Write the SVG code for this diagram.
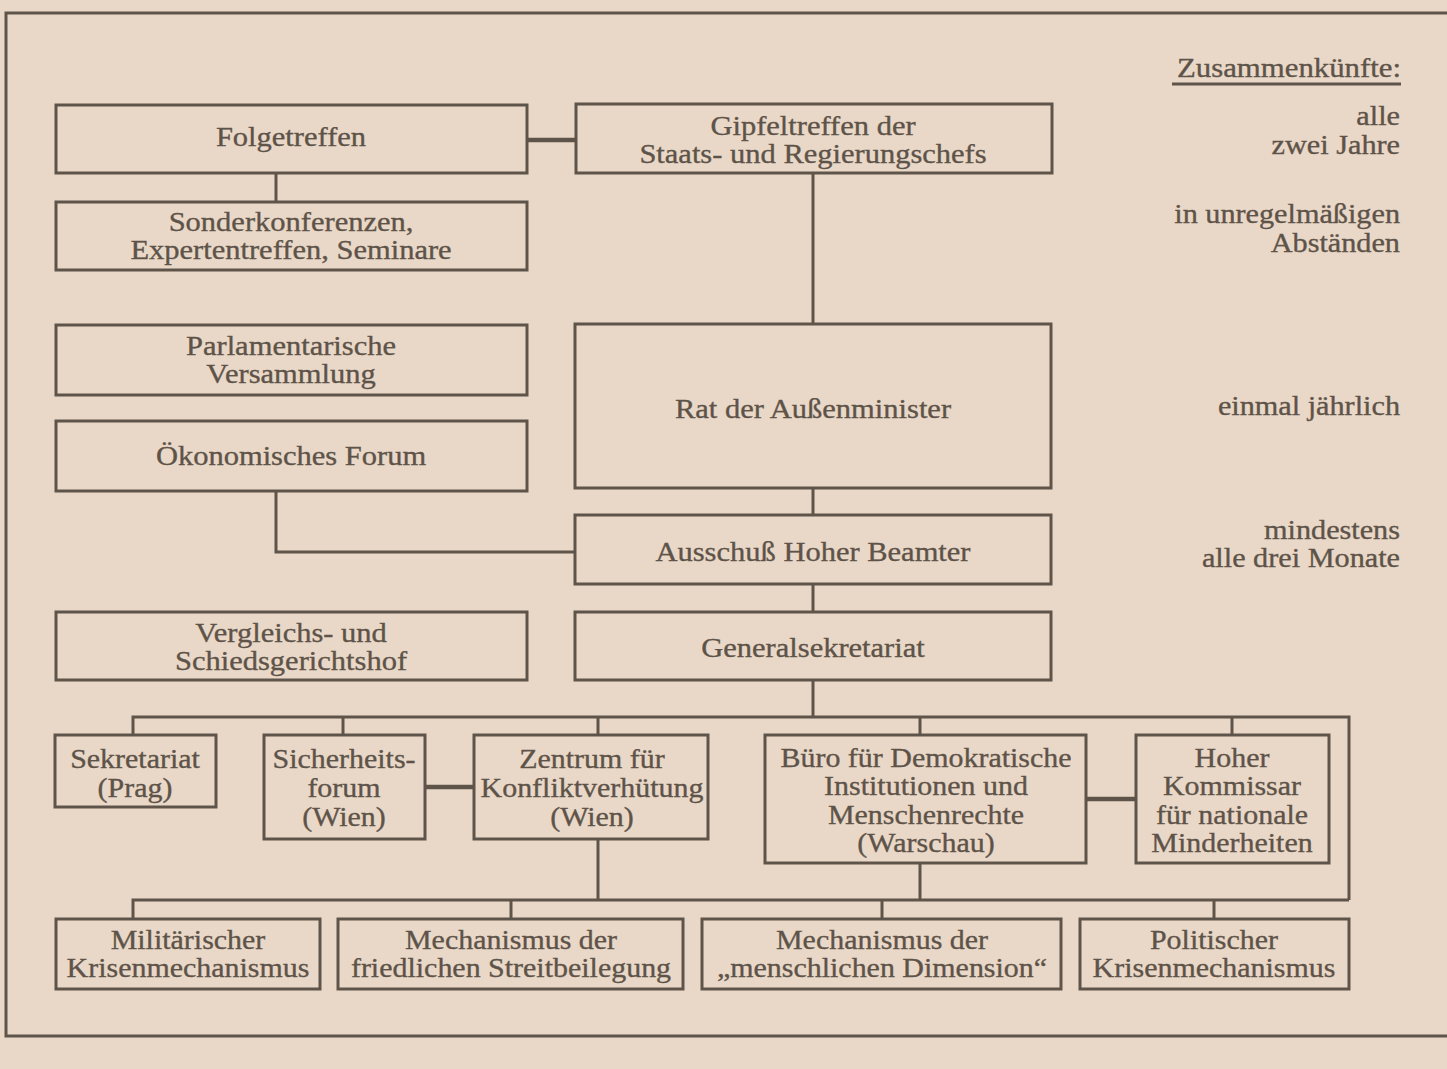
<svg xmlns="http://www.w3.org/2000/svg" width="1447" height="1069" viewBox="0 0 1447 1069">
<style>
.bg{fill:#e9d8c7}
.box{fill:none;stroke:#5f544a;stroke-width:3}
.ln{fill:none;stroke:#5f544a;stroke-width:3}
.thick{fill:none;stroke:#5f544a;stroke-width:4.5}
.t{font-family:"Liberation Serif","Times New Roman",serif;font-size:28px;fill:#5e5349;stroke:#5e5349;stroke-width:0.35;text-anchor:middle}
.r{font-family:"Liberation Serif","Times New Roman",serif;font-size:28px;fill:#5e5349;stroke:#5e5349;stroke-width:0.35;text-anchor:end}
</style>
<rect class="bg" x="0" y="0" width="1447" height="1069"/>
<path class="ln" d="M1447,13 H6 V1036 H1447"/>

<g id="connectors">
<line class="thick" x1="527" y1="140" x2="576" y2="140"/>
<line class="ln" x1="276" y1="173" x2="276" y2="202"/>
<line class="ln" x1="813" y1="173" x2="813" y2="324"/>
<line class="ln" x1="813" y1="488" x2="813" y2="515"/>
<path class="ln" d="M276,491 V552 H575"/>
<line class="ln" x1="813" y1="584" x2="813" y2="612"/>
<line class="ln" x1="813" y1="680" x2="813" y2="717"/>
<path class="ln" d="M133,735 V717 H1349 V900"/>
<line class="ln" x1="343" y1="717" x2="343" y2="735"/>
<line class="ln" x1="598" y1="717" x2="598" y2="735"/>
<line class="ln" x1="920" y1="717" x2="920" y2="735"/>
<line class="ln" x1="1232" y1="717" x2="1232" y2="735"/>
<line class="thick" x1="425" y1="787" x2="474" y2="787"/>
<line class="thick" x1="1086" y1="799" x2="1136" y2="799"/>
<line class="ln" x1="598" y1="839" x2="598" y2="900"/>
<line class="ln" x1="920" y1="863" x2="920" y2="900"/>
<path class="ln" d="M133,919 V900 H1349"/>
<line class="ln" x1="511" y1="900" x2="511" y2="919"/>
<line class="ln" x1="882" y1="900" x2="882" y2="919"/>
<line class="ln" x1="1214" y1="900" x2="1214" y2="919"/>
</g>

<g id="folgetreffen">
<rect class="box" x="56" y="105" width="471" height="68"/>
<text class="t" transform="translate(291,146) scale(1.09,1)">Folgetreffen</text>
</g>
<g id="sonderkonferenzen">
<rect class="box" x="56" y="202" width="471" height="68"/>
<text class="t" transform="translate(291,231) scale(1.09,1)"><tspan x="0">Sonderkonferenzen,</tspan><tspan x="0" dy="28">Expertentreffen, Seminare</tspan></text>
</g>
<g id="gipfeltreffen">
<rect class="box" x="576" y="104" width="476" height="69"/>
<text class="t" transform="translate(813,135) scale(1.09,1)"><tspan x="0">Gipfeltreffen der</tspan><tspan x="0" dy="28">Staats- und Regierungschefs</tspan></text>
</g>
<g id="parlamentarische">
<rect class="box" x="56" y="325" width="471" height="70"/>
<text class="t" transform="translate(291,355) scale(1.09,1)"><tspan x="0">Parlamentarische</tspan><tspan x="0" dy="28">Versammlung</tspan></text>
</g>
<g id="oekonomisches">
<rect class="box" x="56" y="421" width="471" height="70"/>
<text class="t" transform="translate(291,465) scale(1.09,1)">Ökonomisches Forum</text>
</g>
<g id="rat">
<rect class="box" x="575" y="324" width="476" height="164"/>
<text class="t" transform="translate(813,418) scale(1.09,1)">Rat der Außenminister</text>
</g>
<g id="ausschuss">
<rect class="box" x="575" y="515" width="476" height="69"/>
<text class="t" transform="translate(813,561) scale(1.09,1)">Ausschuß Hoher Beamter</text>
</g>
<g id="vergleichs">
<rect class="box" x="56" y="612" width="471" height="68"/>
<text class="t" transform="translate(291,642) scale(1.09,1)"><tspan x="0">Vergleichs- und</tspan><tspan x="0" dy="28">Schiedsgerichtshof</tspan></text>
</g>
<g id="generalsekretariat">
<rect class="box" x="575" y="612" width="476" height="68"/>
<text class="t" transform="translate(813,657) scale(1.09,1)">Generalsekretariat</text>
</g>

<g id="sekretariat">
<rect class="box" x="55" y="735" width="161" height="72"/>
<text class="t" transform="translate(135,768) scale(1.07,1)"><tspan x="0">Sekretariat</tspan><tspan x="0" dy="29">(Prag)</tspan></text>
</g>
<g id="sicherheitsforum">
<rect class="box" x="264" y="735" width="161" height="104"/>
<text class="t" transform="translate(344,768) scale(1.07,1)"><tspan x="0">Sicherheits-</tspan><tspan x="0" dy="29">forum</tspan><tspan x="0" dy="29">(Wien)</tspan></text>
</g>
<g id="zentrum">
<rect class="box" x="474" y="735" width="234" height="104"/>
<text class="t" transform="translate(592,768) scale(1.07,1)"><tspan x="0">Zentrum für</tspan><tspan x="0" dy="29">Konfliktverhütung</tspan><tspan x="0" dy="29">(Wien)</tspan></text>
</g>
<g id="buero">
<rect class="box" x="765" y="735" width="321" height="128"/>
<text class="t" transform="translate(926,767) scale(1.07,1)"><tspan x="0">Büro für Demokratische</tspan><tspan x="0" dy="28.5">Institutionen und</tspan><tspan x="0" dy="28.5">Menschenrechte</tspan><tspan x="0" dy="28.5">(Warschau)</tspan></text>
</g>
<g id="hoher-kommissar">
<rect class="box" x="1136" y="735" width="193" height="128"/>
<text class="t" transform="translate(1232,767) scale(1.07,1)"><tspan x="0">Hoher</tspan><tspan x="0" dy="28.5">Kommissar</tspan><tspan x="0" dy="28.5">für nationale</tspan><tspan x="0" dy="28.5">Minderheiten</tspan></text>
</g>

<g id="militaerischer">
<rect class="box" x="56" y="919" width="264" height="70"/>
<text class="t" transform="translate(188,949) scale(1.07,1)"><tspan x="0">Militärischer</tspan><tspan x="0" dy="28">Krisenmechanismus</tspan></text>
</g>
<g id="streitbeilegung">
<rect class="box" x="338" y="919" width="345" height="70"/>
<text class="t" transform="translate(511,949) scale(1.07,1)"><tspan x="0">Mechanismus der</tspan><tspan x="0" dy="28">friedlichen Streitbeilegung</tspan></text>
</g>
<g id="menschliche-dimension">
<rect class="box" x="702" y="919" width="359" height="70"/>
<text class="t" transform="translate(882,949) scale(1.07,1)"><tspan x="0">Mechanismus der</tspan><tspan x="0" dy="28">„menschlichen Dimension“</tspan></text>
</g>
<g id="politischer">
<rect class="box" x="1080" y="919" width="269" height="70"/>
<text class="t" transform="translate(1214,949) scale(1.07,1)"><tspan x="0">Politischer</tspan><tspan x="0" dy="28">Krisenmechanismus</tspan></text>
</g>

<g id="legend">
<text class="r" transform="translate(1401,77) scale(1.1,1)">Zusammenkünfte:</text>
<line x1="1172" y1="84" x2="1401" y2="84" stroke="#5f544a" stroke-width="3"/>
<text class="r" transform="translate(1400,125) scale(1.08,1)"><tspan x="0">alle</tspan><tspan x="0" dy="29">zwei Jahre</tspan></text>
<text class="r" transform="translate(1400,223) scale(1.08,1)"><tspan x="0">in unregelmäßigen</tspan><tspan x="0" dy="29">Abständen</tspan></text>
<text class="r" transform="translate(1400,415) scale(1.08,1)">einmal jährlich</text>
<text class="r" transform="translate(1400,539) scale(1.08,1)"><tspan x="0">mindestens</tspan><tspan x="0" dy="28">alle drei Monate</tspan></text>
</g>
</svg>
